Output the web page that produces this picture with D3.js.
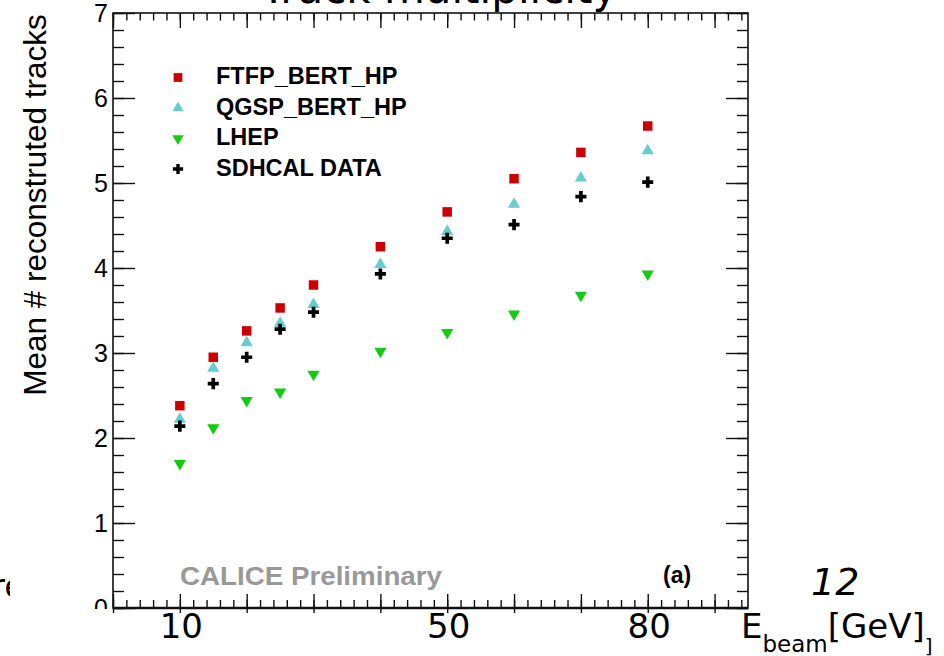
<!doctype html>
<html lang="en">
<head>
<meta charset="utf-8">
<title>Track multiplicity</title>
<script src="https://d3js.org/d3.v7.min.js" charset="utf-8"></script>
<style>
body { margin: 0; background: #fff; }
svg { display: block; }
.root text { font-family: "Liberation Sans", Arial, sans-serif; }
.slide { font-family: "DejaVu Sans", sans-serif; fill: #000; }
</style>
</head>
<body>
<div id="vis-container"></div>
<script>

// beam energies (GeV)
var energies = [10, 15, 20, 25, 30, 40, 50, 60, 70, 80];

// mean number of reconstructed tracks
var ftfpBertHp = [2.38, 2.95, 3.26, 3.53, 3.80, 4.25, 4.66, 5.05, 5.36, 5.67];
var qgspBertHp = [2.22, 2.82, 3.12, 3.35, 3.57, 4.04, 4.43, 4.75, 5.06, 5.38];
var lhep       = [1.70, 2.12, 2.44, 2.54, 2.75, 3.02, 3.24, 3.46, 3.68, 3.93];
var sdhcalData = [2.14, 2.64, 2.95, 3.28, 3.48, 3.93, 4.35, 4.51, 4.84, 5.01];

var seriesNames = ["FTFP_BERT_HP", "QGSP_BERT_HP", "LHEP", "SDHCAL DATA"];

// tick labels
var xLabels = [10, 50, 80];
var yLabels = [0, 1, 2, 3, 4, 5, 6, 7];

var width = 944, height = 656;

var svg = d3.select("#vis-container")
  .append("svg")
    .attr("width", width)
    .attr("height", height);

svg.append("rect").attr("width", width).attr("height", height).attr("fill", "#fff");

// text of the slide behind the plot, cut by the picture
svg.append("clipPath").attr("id", "leftcut")
  .append("rect").attr("x", 0).attr("y", 0).attr("width", 10).attr("height", height);
svg.append("text")
    .attr("class", "slide")
    .attr("clip-path", "url(#leftcut)")
    .attr("x", -9).attr("y", 598)
    .style("font-size", "34px")
    .text("re");

var x = d3.scaleLinear().domain([0, 95]).range([113, 748]);
var y = d3.scaleLinear().domain([0, 7]).range([608, 13]);

var plot = svg.append("g").attr("class", "root");

var minorX = d3.range(0, 95, 2);
var majorX = d3.range(0, 95, 10);
var minorY = d3.range(0, 7.01, 0.2);
var majorY = yLabels;

function noLabels(axis) {
  return axis.tickFormat("").tickSizeOuter(0);
}

function drawTicks(g) {
  g.select(".domain").remove();
  g.selectAll(".tick line").attr("stroke", "#111").attr("stroke-width", 1.4);
}

// bottom
plot.append("g").attr("transform", "translate(0," + y(0) + ")")
  .call(noLabels(d3.axisBottom(x).tickValues(minorX).tickSize(-8))).call(drawTicks);
plot.append("g").attr("transform", "translate(0," + y(0) + ")")
  .call(noLabels(d3.axisBottom(x).tickValues(majorX).tickSize(-14))).call(drawTicks);
plot.append("g").attr("transform", "translate(0," + y(0) + ")")
  .call(noLabels(d3.axisBottom(x).tickValues(majorX).tickSize(5))).call(drawTicks);
// top
plot.append("g").attr("transform", "translate(0," + y(7) + ")")
  .call(noLabels(d3.axisTop(x).tickValues(minorX).tickSize(-7.5))).call(drawTicks);
plot.append("g").attr("transform", "translate(0," + y(7) + ")")
  .call(noLabels(d3.axisTop(x).tickValues(majorX).tickSize(-15))).call(drawTicks);
// left
plot.append("g").attr("transform", "translate(" + x(0) + ",0)")
  .call(noLabels(d3.axisLeft(y).tickValues(minorY).tickSize(-11))).call(drawTicks);
plot.append("g").attr("transform", "translate(" + x(0) + ",0)")
  .call(noLabels(d3.axisLeft(y).tickValues(majorY).tickSize(-22))).call(drawTicks);
// right
plot.append("g").attr("transform", "translate(" + x(95) + ",0)")
  .call(noLabels(d3.axisRight(y).tickValues(minorY).tickSize(-11))).call(drawTicks);
plot.append("g").attr("transform", "translate(" + x(95) + ",0)")
  .call(noLabels(d3.axisRight(y).tickValues(majorY).tickSize(-22))).call(drawTicks);

// frame
plot.append("rect")
    .attr("x", x(0)).attr("y", y(7))
    .attr("width", x(95) - x(0)).attr("height", y(0) - y(7))
    .attr("fill", "none").attr("stroke", "#111").attr("stroke-width", 1.6);
plot.append("line")
    .attr("x1", x(0)).attr("x2", x(95)).attr("y1", y(0)).attr("y2", y(0))
    .attr("stroke", "#111").attr("stroke-width", 2.4);

// y tick labels (the bottom of the picture is covered by the slide)
svg.append("clipPath").attr("id", "ycut")
  .append("rect").attr("x", 0).attr("y", 0).attr("width", width).attr("height", 609);
var yAxisLabels = plot.append("g")
    .attr("clip-path", "url(#ycut)")
  .append("g")
    .attr("transform", "translate(" + (x(0) - 5) + ",0)")
    .call(d3.axisLeft(y).tickValues(yLabels).tickSize(0).tickPadding(0).tickFormat(d3.format("d")));
yAxisLabels.select(".domain").remove();
yAxisLabels.selectAll("text")
    .attr("fill", "#000")
    .style("font-family", "'Liberation Sans', Arial, sans-serif")
    .style("font-size", "25px");

// y axis title
plot.append("text")
    .attr("transform", "translate(46," + 205 + ") rotate(-90)")
    .attr("text-anchor", "middle")
    .style("font-size", "31.5px")
    .text("Mean # reconstruted tracks");

// markers
var markers = [
  { name: seriesNames[0], values: ftfpBertHp, shape: d3.symbolSquare,   size: 90, color: "#cc0000", rot: 0 },
  { name: seriesNames[1], values: qgspBertHp, shape: d3.symbolTriangle, size: 64, color: "#66cccc", rot: 0 },
  { name: seriesNames[2], values: lhep,       shape: d3.symbolTriangle, size: 64, color: "#11cc11", rot: 180 },
  { name: seriesNames[3], values: sdhcalData, shape: d3.symbolCross,    size: 68, color: "#000000", rot: 0 }
];

markers.forEach(function(m) {
  var sym = d3.symbol().type(m.shape).size(m.size);
  plot.append("g").selectAll("path")
    .data(m.values)
   .enter().append("path")
    .attr("d", sym)
    .attr("fill", m.color)
    .attr("transform", function(d, i) {
      return "translate(" + x(energies[i]) + "," + y(d) + ") rotate(" + m.rot + ")";
    });
});

// legend
var legendRows = [76, 106.5, 137, 167.5];
var legend = plot.append("g");
markers.forEach(function(m, i) {
  legend.append("path")
    .attr("d", d3.symbol().type(m.shape).size(m.size * 0.85))
    .attr("fill", m.color)
    .attr("transform", "translate(178," + (legendRows[i] + 1.5) + ") rotate(" + m.rot + ")");
  legend.append("text")
    .attr("x", 216).attr("y", legendRows[i] + 8)
    .style("font-size", "23.5px")
    .style("font-weight", "bold")
    .text(m.name);
});

plot.append("text")
    .attr("x", 180).attr("y", 585)
    .attr("textLength", 262).attr("lengthAdjust", "spacingAndGlyphs")
    .style("font-size", "25px").style("font-weight", "bold")
    .attr("fill", "#999999")
    .text("CALICE Preliminary");

plot.append("text")
    .attr("x", 663).attr("y", 583)
    .style("font-size", "23px").style("font-weight", "bold")
    .text("(a)");

// slide overlay: title, page number, x labels
svg.append("text")
    .attr("class", "slide")
    .attr("x", 439).attr("y", 3)
    .attr("text-anchor", "middle")
    .style("font-size", "42px")
    .text("Track multiplicity");

svg.append("text")
    .attr("class", "slide")
    .attr("x", 811).attr("y", 595)
    .style("font-size", "38px")
    .style("font-style", "italic")
    .text("12");

var xAxisLabels = svg.append("g")
    .attr("transform", "translate(1," + y(0) + ")")
    .call(d3.axisBottom(x).tickValues(xLabels).tickSize(0).tickPadding(6));
xAxisLabels.select(".domain").remove();
xAxisLabels.selectAll("text")
    .attr("fill", "#000")
    .style("font-family", "'DejaVu Sans', sans-serif")
    .style("font-size", "34px");

var xTitle = svg.append("text")
    .attr("class", "slide")
    .attr("x", 741).attr("y", 638)
    .style("font-size", "34px");
xTitle.append("tspan").text("E");
xTitle.append("tspan").attr("dy", 14).style("font-size", "23px").text("beam");
xTitle.append("tspan").attr("dy", -14).text("[GeV]");
xTitle.append("tspan").attr("dy", 15).style("font-size", "20px").text("]");

</script>
</body>
</html>
